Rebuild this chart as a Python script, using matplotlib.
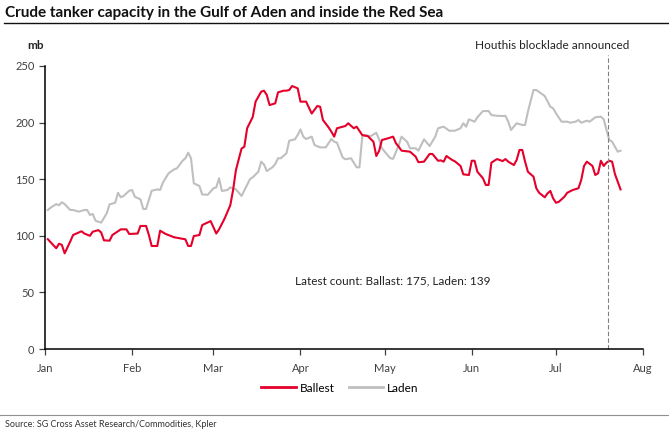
import numpy as np
import pandas as pd
import matplotlib
matplotlib.use('Agg')
from matplotlib import pyplot as plt
import matplotlib.dates as mdates
from matplotlib.lines import Line2D

# day offsets from 1 Jan 2024 and capacity (mb)
ballast_day = [1, 4, 5, 6, 7, 9, 10, 13, 14, 16, 17, 19, 20, 21, 23, 24, 27, 29, 30, 33,
               34, 36, 37, 38, 40, 41, 43, 46, 48, 50, 51, 52, 53, 55, 56, 59, 61, 62, 64, 66,
               67, 68, 70, 71, 72, 74, 75, 77, 78, 79, 80, 82, 83, 85, 86, 87, 88, 90, 91, 93,
               95, 97, 98, 99, 101, 102, 103, 104, 107, 108, 110, 111, 113, 115, 117, 118, 119, 120, 122, 124,
               125, 126, 127, 130, 132, 133, 135, 137, 138, 140, 141, 142, 143, 145, 146, 148, 149, 151, 152, 153,
               154, 155, 156, 157, 158, 159, 161, 163, 164, 165, 167, 168, 169, 170, 171, 172, 174, 175, 176, 178,
               179, 180, 181, 182, 183, 185, 186, 188, 190, 191, 192, 193, 195, 196, 197, 198, 199, 200, 201, 202,
               203, 205]
ballast = [97, 89, 93, 92, 84.5, 95, 100.7, 104, 102, 100, 103.6, 105, 103, 96, 95.7, 100.7, 105.7, 105.7, 101.6, 102,
           108.7, 108.7, 100.7, 91, 91, 104.5, 101.6, 98.7, 97.8, 96.9, 91, 91, 99.8, 100.7, 109.5, 113, 102, 105.7, 115.4, 127,
           140.5, 158, 177, 178.7, 195, 205, 218.5, 227.3, 228.2, 224.4, 215.5, 217, 226.7, 228.2, 228.2, 228.8, 232.3, 230.3, 218.5, 218.5,
           208, 214.7, 214, 202.3, 195.8, 192, 187.6, 195, 197, 199.4, 195, 196.4, 189, 188, 183, 170.5, 175, 184.6, 186, 187.6,
           181.7, 178.7, 175.2, 174.3, 170, 165, 165.5, 172.3, 172.3, 166.3, 166.6, 165.5, 170.5, 167, 165.8, 161.7, 154.3, 153.7, 166.3, 166.3,
           156.6, 153.7, 150.8, 144.9, 144.9, 164.6, 167.8, 166, 167.8, 165.5, 162.5, 167, 175.8, 175.8, 165.5, 156.6, 152.2, 142, 138, 134,
           137.5, 139.6, 133, 129.2, 130, 134.5, 138, 140.5, 142, 149.3, 161.7, 165.5, 161.7, 153.7, 155.2, 166.3, 161.7, 164.6, 166.3, 165.5,
           154.6, 141]

laden_day = [1, 2, 4, 5, 6, 7, 9, 10, 12, 14, 15, 16, 17, 18, 20, 22, 23, 25, 26, 27,
             28, 30, 31, 32, 34, 35, 36, 38, 40, 41, 42, 44, 46, 47, 49, 50, 51, 52, 53, 55,
             56, 58, 60, 61, 62, 63, 65, 66, 68, 70, 73, 74, 76, 77, 78, 79, 81, 82, 83, 84,
             86, 87, 89, 90, 91, 92, 93, 95, 96, 98, 100, 102, 103, 104, 106, 107, 109, 111, 112, 113,
             114, 116, 118, 119, 120, 121, 123, 124, 126, 127, 129, 130, 132, 133, 135, 137, 139, 140, 142, 144,
             146, 148, 149, 150, 151, 153, 154, 156, 158, 159, 161, 163, 164, 165, 166, 168, 170, 171, 172, 174,
             175, 177, 178, 180, 181, 182, 184, 186, 187, 189, 190, 191, 193, 194, 196, 198, 199, 200, 201, 202,
             203, 204, 205]
laden = [122.8, 124.8, 128, 127, 129.6, 128, 122.8, 122.8, 121.3, 122.8, 122.8, 118.4, 119.3, 113.3, 111.6, 119.9, 127.8, 129.2, 138, 134,
         135.2, 139.8, 140.5, 134.5, 132.2, 123.7, 123.7, 139.8, 141, 140.5, 147, 155.2, 158.7, 159.6, 166.3, 168.5, 173.4, 168.5, 146.4, 144,
         136.5, 136.3, 142, 142.8, 150.8, 139.6, 140.5, 142.8, 141, 135.2, 150, 151.7, 156.6, 165.5, 163, 157.2, 160.5, 163.4, 168.5, 168.5,
         172.9, 184, 185.2, 189, 194, 187.6, 185.5, 187.6, 180.2, 178.1, 178.1, 185.5, 183.1, 182.3, 169.3, 167.6, 168.5, 160.5, 160.5, 187.6,
         189, 188, 191, 185, 177.3, 174.3, 168.5, 168, 180.2, 187.6, 183, 177.3, 177.3, 175.2, 185.2, 179.3, 187.6, 195, 196.4, 192.8,
         192.8, 195, 199.4, 196.4, 202.9, 200.8, 204.7, 210.2, 210.2, 206.7, 206, 205.8, 206, 200.8, 193.5, 199.4, 197.9, 197.9, 209.6, 228.8,
         228.8, 225.3, 223.5, 214, 212.6, 208.2, 200.8, 200.8, 199.9, 200.8, 202.3, 199.9, 201.7, 200.8, 204.7, 205.3, 202.9, 193.5, 184.6, 183.1,
         178.7, 174.3, 175.2]

start = pd.Timestamp('2024-01-01')
ballast_dates = start + pd.to_timedelta(ballast_day, unit='D')
laden_dates = start + pd.to_timedelta(laden_day, unit='D')
blockade_date = pd.Timestamp('2024-07-19 12:00')

RED = '#e4002b'
GREY = '#bfbfbf'
plt.rcParams['font.family'] = ['Lato', 'DejaVu Sans']

fig = plt.figure(figsize=(6.69, 4.36), dpi=100)
ax = fig.add_axes([45 / 669, 87 / 436, 598 / 669, 283 / 436])

ax.plot(laden_dates, laden, color=GREY, lw=1.5, label='Laden')
ax.plot(ballast_dates, ballast, color=RED, lw=1.5, label='Ballest')
ax.plot([blockade_date, blockade_date], [0, 260], color='#808080', lw=0.8,
        ls=(0, (4, 2)), clip_on=False)

ax.set_xlim(pd.Timestamp('2024-01-01'), pd.Timestamp('2024-08-01'))
ax.set_ylim(0, 250)
ax.set_yticks(range(0, 251, 50))
ax.xaxis.set_major_locator(mdates.MonthLocator())
ax.xaxis.set_major_formatter(mdates.DateFormatter('%b'))
for s in ['top', 'right']:
    ax.spines[s].set_visible(False)
for s in ['left', 'bottom']:
    ax.spines[s].set_linewidth(1.1)
ax.tick_params(axis='both', labelsize=8, colors='#404040', length=4, width=0.9)
ax.tick_params(axis='x', pad=6)

ax.text(pd.Timestamp('2024-05-04'), 60, 'Latest count: Ballast: 175, Laden: 139',
        ha='center', va='center', fontsize=8.5, color='#222222')
ax.text(blockade_date + pd.Timedelta(days=7.5), 268, 'Houthis blocklade announced', ha='right',
        va='center', fontsize=8.5, color='#222222', clip_on=False)
ax.text(-0.002, 268, 'mb', transform=ax.get_yaxis_transform(), fontsize=8.5,
        fontweight='bold', ha='right', va='center', color='#222222')

handles = [Line2D([], [], color=RED, lw=2.0), Line2D([], [], color=GREY, lw=2.0)]
fig.legend(handles, ['Ballest', 'Laden'], loc='center', bbox_to_anchor=(340 / 669, 1 - 388 / 436),
           ncol=2, frameon=False, fontsize=8.5, handlelength=2.9, handletextpad=0.35, columnspacing=1.2)

fig.text(5 / 669, 1 - 13 / 436, 'Crude tanker capacity in the Gulf of Aden and inside the Red Sea',
         fontsize=11, fontweight='bold', va='center', ha='left', color='#111111')
fig.add_artist(Line2D([4 / 669, 1], [1 - 23 / 436] * 2, color='#111111', lw=1.0))
fig.add_artist(Line2D([0, 1], [1 - 415 / 436] * 2, color='#909090', lw=0.8))
fig.text(5 / 669, 1 - 424 / 436, 'Source: SG Cross Asset Research/Commodities, Kpler',
         fontsize=6.5, va='center', ha='left', color='#333333')

fig.savefig('out.png', dpi=100)
